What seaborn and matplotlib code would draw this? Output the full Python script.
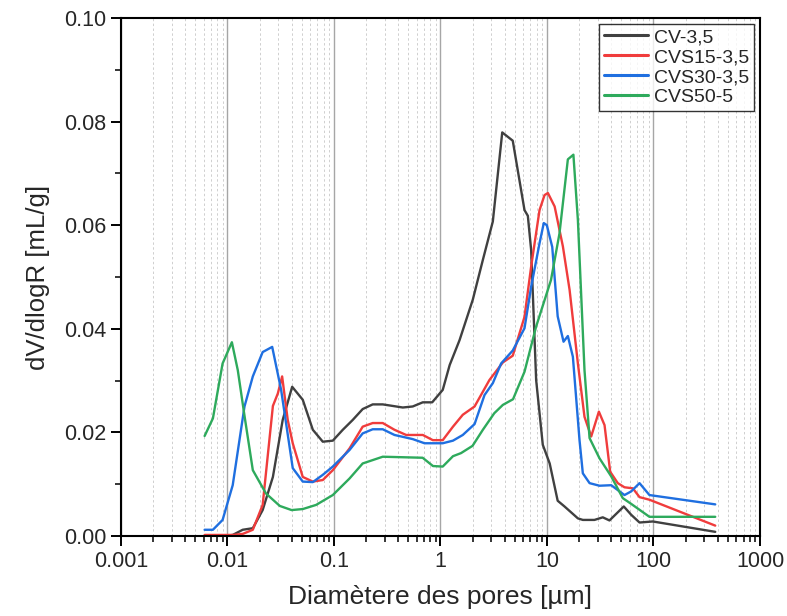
import numpy as np
import pandas as pd
import seaborn as sns
import matplotlib.pyplot as plt
from matplotlib.ticker import FixedLocator, MultipleLocator, FuncFormatter

# pore size distribution curves
cv_x = [0.0061, 0.009, 0.0112, 0.0139, 0.0173, 0.0214, 0.0267, 0.033, 0.0405, 0.0509,
        0.0633, 0.0785, 0.0975, 0.121, 0.15, 0.186, 0.231, 0.287, 0.443, 0.549,
        0.682, 0.836, 1.05, 1.22, 1.51, 2.01, 2.5, 3.1, 3.8, 4.77,
        6.15, 6.61, 7.1, 7.91, 9.13, 10.6, 12.6, 14.6, 19.5, 21.7,
        27.9, 33.4, 38.6, 52.6, 61.7, 73.9, 98.5, 380]
cv_y = [0.0, 0.0, 0.0002, 0.0012, 0.0015, 0.005, 0.0114, 0.0224, 0.0288, 0.0263,
        0.0205, 0.0182, 0.0184, 0.0205, 0.0224, 0.0245, 0.0254, 0.0254, 0.0248, 0.0250,
        0.0258, 0.0258, 0.0282, 0.033, 0.0378, 0.0456, 0.0533, 0.0607, 0.0779, 0.0763,
        0.0629, 0.0618, 0.0552, 0.0301, 0.0176, 0.014, 0.0068, 0.0057, 0.0034, 0.0031,
        0.0031, 0.0036, 0.0030, 0.0057, 0.0041, 0.0026, 0.0028, 0.0008]

cvs15_x = [0.0061, 0.009, 0.0112, 0.0139, 0.0173, 0.0214, 0.0267, 0.0297, 0.0326, 0.0368,
           0.041, 0.0509, 0.0633, 0.0785, 0.0975, 0.14, 0.186, 0.231, 0.287, 0.37,
           0.476, 0.682, 0.847, 1.05, 1.31, 1.62, 2.09, 2.88, 3.85, 4.77,
           6.15, 7.1, 8.51, 9.48, 10.2, 11.8, 14.1, 16.3, 19.5, 22.5,
           26.0, 30.7, 34.7, 39.2, 46.2, 53.4, 64.0, 73.9, 91.6, 380]
cvs15_y = [0.0002, 0.0002, 0.0002, 0.0004, 0.0012, 0.006, 0.0251, 0.0275, 0.0308, 0.0224,
           0.0179, 0.0114, 0.0105, 0.0108, 0.0127, 0.0169, 0.0211, 0.0218, 0.0218, 0.0205,
           0.0195, 0.0195, 0.0185, 0.0185, 0.0211, 0.0234, 0.025, 0.0301, 0.0335, 0.0348,
           0.0423, 0.052, 0.0629, 0.0658, 0.0662, 0.0636, 0.0559, 0.0475, 0.0333, 0.023,
           0.0192, 0.024, 0.0214, 0.0124, 0.0102, 0.0094, 0.0092, 0.0075, 0.0070, 0.0020]

cvs30_x = [0.0061, 0.0073, 0.009, 0.0112, 0.01445, 0.0173, 0.0214, 0.0263, 0.0319, 0.041,
           0.0509, 0.0633, 0.0785, 0.0975, 0.14, 0.186, 0.231, 0.287, 0.37, 0.549,
           0.708, 1.05, 1.31, 1.62, 2.09, 2.59, 3.1, 3.71, 4.77, 6.15,
           7.1, 8.51, 9.33, 9.96, 11.2, 12.6, 14.3, 15.7, 17.5, 20.2,
           21.7, 25.1, 31.1, 40.1, 53.4, 61.7, 73.9, 91.6, 380]
cvs30_y = [0.0012, 0.0012, 0.0031, 0.0098, 0.025, 0.0308, 0.0355, 0.0365, 0.0282, 0.0131,
           0.0105, 0.0104, 0.0118, 0.0134, 0.0166, 0.0198, 0.0206, 0.0206, 0.0195, 0.0187,
           0.0179, 0.0179, 0.0184, 0.0195, 0.0216, 0.0272, 0.0295, 0.0333, 0.0358, 0.0401,
           0.0481, 0.0565, 0.0604, 0.0600, 0.0558, 0.0424, 0.0375, 0.0386, 0.0346, 0.0185,
           0.0121, 0.0102, 0.0097, 0.0098, 0.0079, 0.0086, 0.0102, 0.0079, 0.0061]

cvs50_x = [0.0061, 0.0073, 0.009, 0.011, 0.0125, 0.0145, 0.0173, 0.023, 0.031, 0.040,
           0.051, 0.068, 0.0975, 0.14, 0.186, 0.287, 0.443, 0.68, 0.85, 1.05,
           1.31, 1.56, 2.0, 2.5, 3.2, 3.85, 4.8, 6.15, 7.9, 10.9,
           13.1, 15.7, 17.7, 19.5, 22.5, 25.1, 31.1, 40.1, 51.5, 61.7,
           91.6, 380]
cvs50_y = [0.0193, 0.0227, 0.0333, 0.0374, 0.032, 0.023, 0.0127, 0.0082, 0.0058, 0.0050,
           0.0052, 0.0060, 0.0079, 0.0111, 0.0140, 0.0153, 0.0152, 0.0151, 0.0135, 0.0134,
           0.0154, 0.0160, 0.0174, 0.0205, 0.0237, 0.0253, 0.0264, 0.0317, 0.0404, 0.0494,
           0.0584, 0.0727, 0.0736, 0.0610, 0.032, 0.0189, 0.0150, 0.0115, 0.0073, 0.0062,
           0.0037, 0.0037]

samples = ['CV-3,5', 'CVS15-3,5', 'CVS30-3,5', 'CVS50-5']
colors = ['#404040', '#f03c3c', '#1f6fe0', '#2eaa5c']
decades = [0.001, 0.01, 0.1, 1, 10, 100, 1000]
decade_labels = ['0.001', '0.01', '0.1', '1', '10', '100', '1000']

frames = []
for name, xs, ys in zip(samples,
                        [cv_x, cvs15_x, cvs30_x, cvs50_x],
                        [cv_y, cvs15_y, cvs30_y, cvs50_y]):
    frames.append(pd.DataFrame({'d': xs, 'v': ys, 'sample': name}))
df = pd.concat(frames, ignore_index=True)

sns.set_style("ticks")
plt.rcParams['font.family'] = ['Liberation Sans', 'DejaVu Sans']

fig = plt.figure(figsize=(7.87, 6.16), dpi=100)
ax = fig.add_axes([0.1537, 0.1299, 0.812, 0.841])

sns.lineplot(data=df, x='d', y='v', hue='sample', palette=colors,
             estimator=None, sort=False, linewidth=1.7, ax=ax)

ax.set_xscale('log')
ax.set_xlim(0.001, 1000)
ax.set_ylim(0, 0.1)

# every decade plus the 2..9 positions as one tick set; decades get labels
sub_pos = [d * k for d in decades[:-1] for k in range(2, 10)]
all_pos = sorted(decades + sub_pos)
label_of = dict(zip(decades, decade_labels))


def fmt_x(v, pos):
    for d, lab in label_of.items():
        if abs(v - d) / d < 1e-6:
            return lab
    return ''


ax.xaxis.set_major_locator(FixedLocator(all_pos))
ax.xaxis.set_major_formatter(FuncFormatter(fmt_x))
ax.xaxis.set_minor_locator(plt.NullLocator())

ax.yaxis.set_major_locator(MultipleLocator(0.02))
ax.yaxis.set_minor_locator(MultipleLocator(0.01))
ax.yaxis.set_major_formatter(plt.FormatStrFormatter('%.2f'))
ax.yaxis.set_tick_params(which='minor', direction='out', length=4.5, width=1.1,
                         color='black', left=True, right=False)

ax.xaxis.set_tick_params(which='major', direction='out', length=7, width=1.4,
                         labelsize=15.5, color='black', bottom=True, top=False)
ax.yaxis.set_tick_params(which='major', direction='out', length=7, width=1.4,
                         labelsize=15.5, color='black', left=True, right=False)

for s in ax.spines.values():
    s.set_color('black')
    s.set_linewidth(1.5)

ax.set_xlabel('Diamètere des pores [µm]', fontsize=19, labelpad=10)
ax.set_ylabel('dV/dlogR [mL/g]', fontsize=18.5, labelpad=10)

leg = ax.legend(loc='upper right', fontsize=14, frameon=True, fancybox=False,
                edgecolor='black', handlelength=2.3, borderpad=0.25,
                labelspacing=0.12, handletextpad=0.3, borderaxespad=0.3)
leg.get_frame().set_linewidth(1.0)
for line in leg.get_lines():
    line.set_linewidth(2.2)

# vertical grid only: solid at decades, dotted in between
ax.xaxis.grid(True, which='major', color='#a6a6a6', linewidth=1.0, linestyle='-')
ax.yaxis.grid(False)

fig.canvas.draw()
for tick, loc in zip(ax.xaxis.get_major_ticks(), ax.xaxis.get_majorticklocs()):
    if fmt_x(loc, None) == '':
        tick.tick1line.set_markersize(4.5)
        tick.tick1line.set_markeredgewidth(1.1)
        tick.gridline.set_color('#cfcfcf')
        tick.gridline.set_linewidth(0.7)
        tick.gridline.set_linestyle((0, (2.5, 2.5)))

plt.savefig('out.png', dpi=100)
plt.close()
